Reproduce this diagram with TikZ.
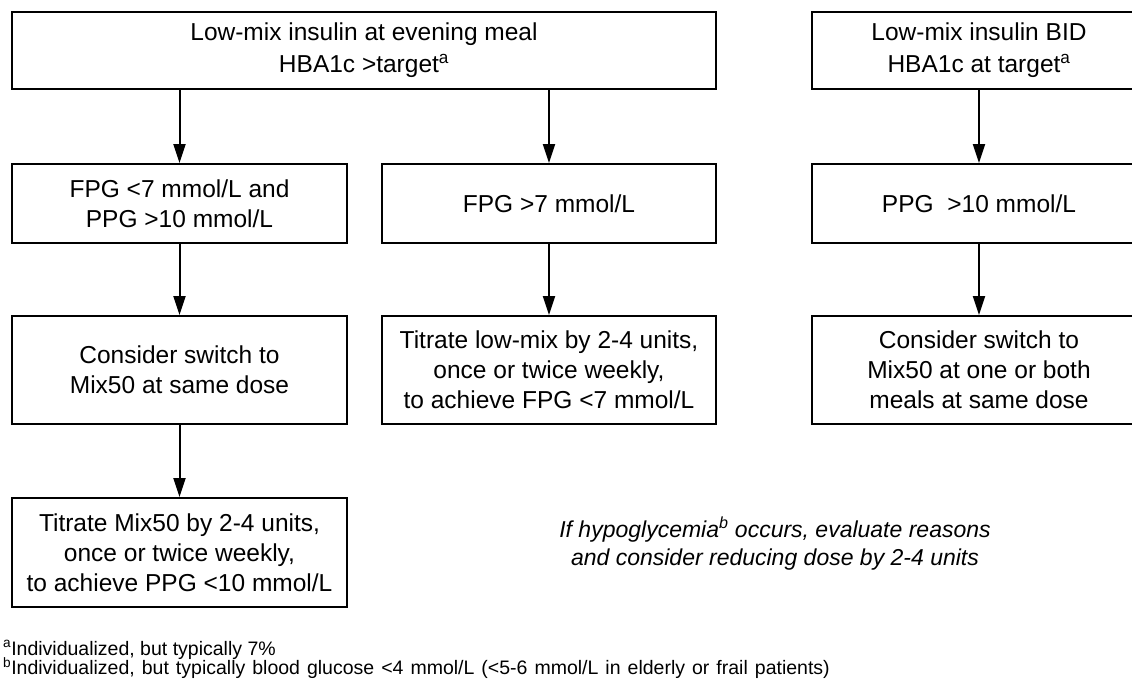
\documentclass[tikz,border=0pt]{standalone}
\usepackage{fontspec}
\setmainfont{Liberation Sans}
\usetikzlibrary{arrows.meta}
\tikzset{
  box/.style={draw=black, line width=2pt, rectangle, align=center, inner sep=0pt,
    font=\fontsize{24.5}{30}\selectfont, text=black},
  topbox/.style={box, font=\fontsize{24.5}{32}\selectfont},
  arr/.style={line width=2pt, draw=black, -{Triangle[length=19pt,width=12pt]}},
  note/.style={align=center, inner sep=0pt, font=\fontsize{23}{28}\selectfont\itshape},
  foot/.style={anchor=west, inner sep=0pt, font=\fontsize{19.5}{20}\selectfont}
}
\begin{document}
\begin{tikzpicture}[x=1pt,y=-1pt]
\useasboundingbox (0,0) rectangle (1132,678);
\clip (0,0) rectangle (1132,678);
% top row
\node[topbox, minimum width=704pt, minimum height=77pt] (top1) at (364,50.5)
  {Low-mix insulin at evening meal\\HBA1c {>}target\textsuperscript{a}};
\node[topbox, minimum width=334pt, minimum height=77pt] (top2) at (979,50.5)
  {Low-mix insulin BID\\HBA1c at target\textsuperscript{a}};
% second row
\node[box, minimum width=335pt, minimum height=79pt] (r2a) at (179.5,203.5)
  {FPG {<}7 mmol/L and\\PPG {>}10 mmol/L};
\node[box, minimum width=334pt, minimum height=79pt] (r2b) at (549,203.5)
  {FPG {>}7 mmol/L};
\node[box, minimum width=334pt, minimum height=79pt] (r2c) at (979,203.5)
  {PPG\ \ {>}10 mmol/L};
% third row
\node[box, minimum width=335pt, minimum height=108pt] (r3a) at (179.5,370)
  {Consider switch to\\Mix50 at same dose};
\node[box, minimum width=334pt, minimum height=108pt] (r3b) at (549,370)
  {Titrate low-mix by 2-4 units,\\once or twice weekly,\\to achieve FPG {<}7 mmol/L};
\node[box, minimum width=334pt, minimum height=108pt] (r3c) at (979,370)
  {Consider switch to\\Mix50 at one or both\\meals at same dose};
% fourth row
\node[box, minimum width=335pt, minimum height=109pt] (r4a) at (179.5,552.5)
  {Titrate Mix50 by 2-4 units,\\once or twice weekly,\\to achieve PPG {<}10 mmol/L};
% note
\node[note] (note) at (775,544)
  {If hypoglycemia\textsuperscript{b} occurs, evaluate reasons\\and consider reducing dose by 2-4 units};
% footnotes
\node[foot] (fa) at (3,650) {\textsuperscript{a}Individualized, but typically 7\%};
\node[foot] (fb) at (3,668) {\spaceskip=0.36em plus 0.1em\textsuperscript{b}Individualized, but typically blood glucose {<}4 mmol/L ({<}5-6 mmol/L in elderly or frail patients)};
% arrows
\draw[arr] (r2a.north |- top1.south) -- (r2a.north);
\draw[arr] (r2b.north |- top1.south) -- (r2b.north);
\draw[arr] (top2.south) -- (r2c.north);
\draw[arr] (r2a.south) -- (r3a.north);
\draw[arr] (r2b.south) -- (r3b.north);
\draw[arr] (r2c.south) -- (r3c.north);
\draw[arr] (r3a.south) -- (r4a.north);
\end{tikzpicture}
\end{document}
